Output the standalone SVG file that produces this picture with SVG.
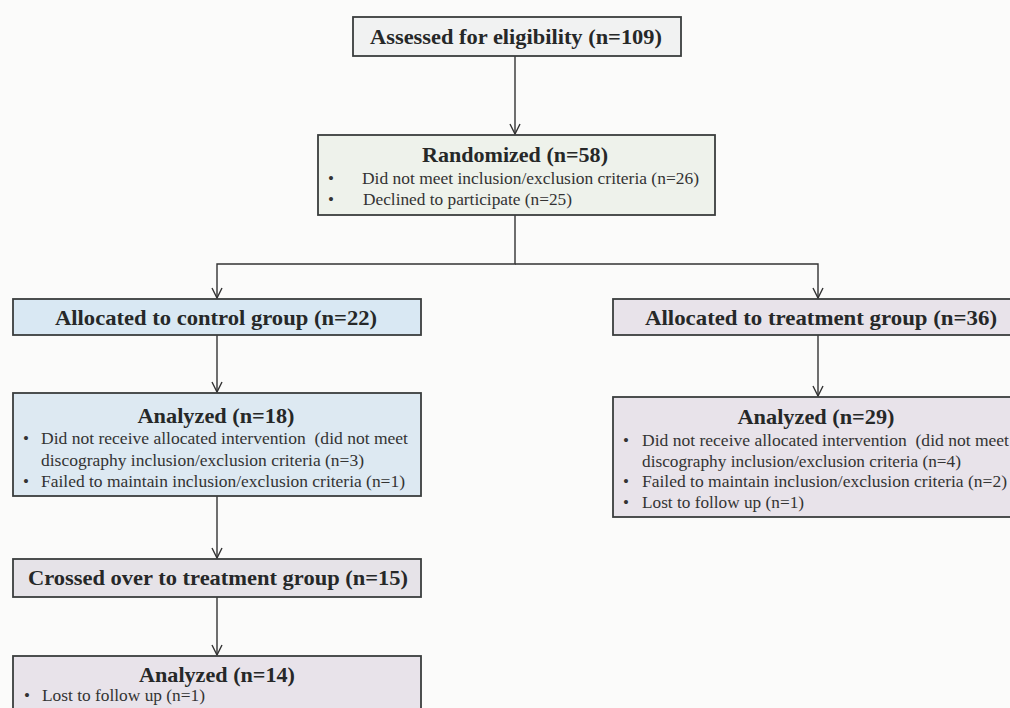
<svg xmlns="http://www.w3.org/2000/svg" width="1010" height="708" viewBox="0 0 1010 708">
<defs>
<style>
.box{stroke:#3a3d3d;stroke-width:1.8}
.t{font-family:"Liberation Serif","Times New Roman",serif;font-weight:bold;fill:#262828;text-anchor:middle;font-size:21px}
.b{font-family:"Liberation Serif","Times New Roman",serif;fill:#333;font-size:17px}
.c{stroke:#333;stroke-width:1.4;fill:none}
</style>
<marker id="ah" viewBox="0 0 12 12" refX="11" refY="6" markerWidth="12" markerHeight="12" markerUnits="userSpaceOnUse" orient="auto">
<path d="M1,1 L11,6 L1,11" fill="none" stroke="#333" stroke-width="1.4"/>
</marker>
</defs>
<rect width="1010" height="708" fill="#fbfbfa"/>
<g id="connectors">
<path class="c" d="M515,56 V134" marker-end="url(#ah)"/>
<path class="c" d="M515,215 V264 H217 V298" marker-end="url(#ah)"/>
<path class="c" d="M515,264 H818 V298" marker-end="url(#ah)"/>
<path class="c" d="M217,335 V392" marker-end="url(#ah)"/>
<path class="c" d="M818,335 V396" marker-end="url(#ah)"/>
<path class="c" d="M217,496 V558" marker-end="url(#ah)"/>
<path class="c" d="M217,597 V655" marker-end="url(#ah)"/>
</g>
<g id="assessed">
<rect class="box" x="353" y="17" width="328" height="39" fill="#f1f2f2"/>
<text class="t" x="516" y="44" textLength="292" lengthAdjust="spacingAndGlyphs">Assessed for eligibility (n=109)</text>
</g>
<g id="randomized">
<rect class="box" x="318" y="135" width="397" height="80" fill="#eef2eb"/>
<text class="t" x="515" y="162" textLength="186" lengthAdjust="spacingAndGlyphs">Randomized (n=58)</text>
<text class="b" x="328" y="184">•</text>
<text class="b" x="362" y="184" textLength="337" lengthAdjust="spacingAndGlyphs">Did not meet inclusion/exclusion criteria (n=26)</text>
<text class="b" x="328" y="205">•</text>
<text class="b" x="363" y="205" textLength="209" lengthAdjust="spacingAndGlyphs">Declined to participate (n=25)</text>
</g>
<g id="control">
<rect class="box" x="13" y="299" width="408" height="36" fill="#d9e8f3"/>
<text class="t" x="216" y="325" textLength="322" lengthAdjust="spacingAndGlyphs">Allocated to control group (n=22)</text>
</g>
<g id="treatment">
<rect class="box" x="613" y="299" width="410" height="36" fill="#e8e3ea"/>
<text class="t" x="821" y="325" textLength="352" lengthAdjust="spacingAndGlyphs">Allocated to treatment group (n=36)</text>
</g>
<g id="analyzed18">
<rect class="box" x="13" y="393" width="408" height="103" fill="#dde9f2"/>
<text class="t" x="216" y="423" textLength="157" lengthAdjust="spacingAndGlyphs">Analyzed (n=18)</text>
<text class="b" x="23" y="444">•</text>
<text class="b" x="41" y="444" textLength="367" lengthAdjust="spacingAndGlyphs">Did not receive allocated intervention&#160; (did not meet</text>
<text class="b" x="41" y="466" textLength="323" lengthAdjust="spacingAndGlyphs">discography inclusion/exclusion criteria (n=3)</text>
<text class="b" x="23" y="487">•</text>
<text class="b" x="41" y="487" textLength="364" lengthAdjust="spacingAndGlyphs">Failed to maintain inclusion/exclusion criteria (n=1)</text>
</g>
<g id="analyzed29">
<rect class="box" x="613" y="397" width="410" height="120" fill="#e8e3ea"/>
<text class="t" x="816" y="424" textLength="157" lengthAdjust="spacingAndGlyphs">Analyzed (n=29)</text>
<text class="b" x="623" y="446">•</text>
<text class="b" x="642" y="446" textLength="367" lengthAdjust="spacingAndGlyphs">Did not receive allocated intervention&#160; (did not meet</text>
<text class="b" x="642" y="467" textLength="319" lengthAdjust="spacingAndGlyphs">discography inclusion/exclusion criteria (n=4)</text>
<text class="b" x="623" y="487">•</text>
<text class="b" x="642" y="487" textLength="365" lengthAdjust="spacingAndGlyphs">Failed to maintain inclusion/exclusion criteria (n=2)</text>
<text class="b" x="623" y="508">•</text>
<text class="b" x="642" y="508" textLength="162" lengthAdjust="spacingAndGlyphs">Lost to follow up (n=1)</text>
</g>
<g id="crossed">
<rect class="box" x="13" y="559" width="408" height="38" fill="#e6e3e8"/>
<text class="t" x="218" y="585" textLength="380" lengthAdjust="spacingAndGlyphs">Crossed over to treatment group (n=15)</text>
</g>
<g id="analyzed14">
<rect class="box" x="13" y="656" width="408" height="70" fill="#e8e3ea"/>
<text class="t" x="217" y="682" textLength="156" lengthAdjust="spacingAndGlyphs">Analyzed (n=14)</text>
<text class="b" x="24" y="701">•</text>
<text class="b" x="42" y="701" textLength="163" lengthAdjust="spacingAndGlyphs">Lost to follow up (n=1)</text>
</g>
</svg>
